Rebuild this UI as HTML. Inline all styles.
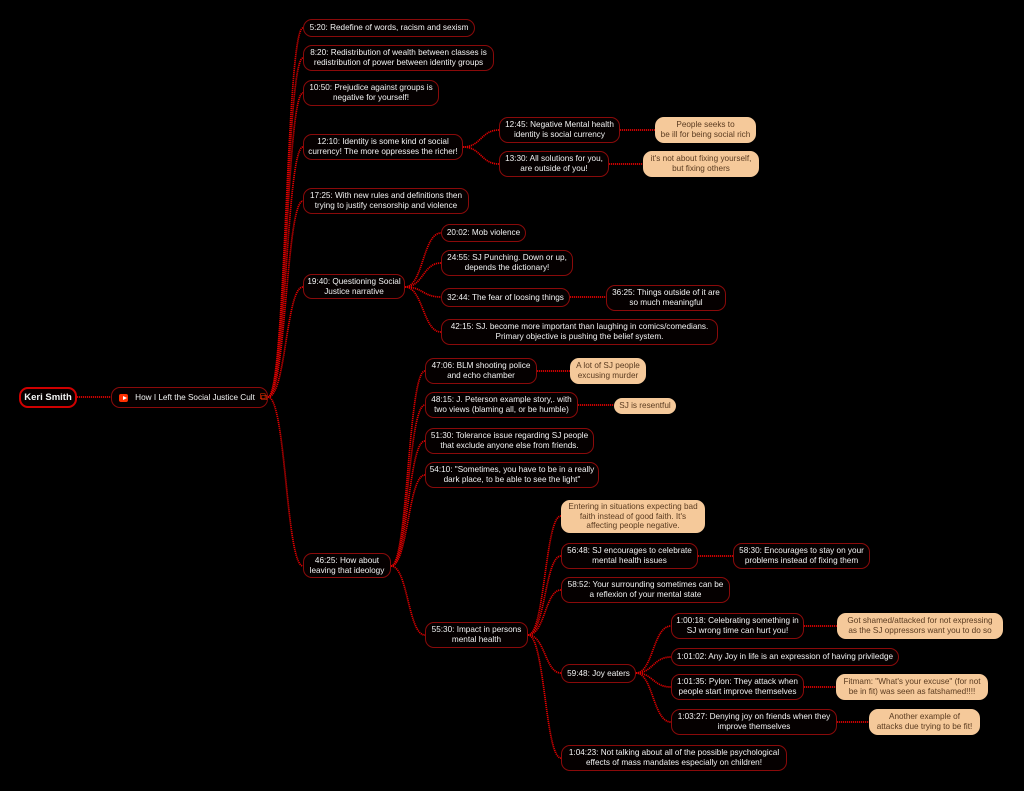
<!DOCTYPE html>
<html><head><meta charset="utf-8">
<style>
html,body{margin:0;padding:0;background:#000;width:1024px;height:791px;overflow:hidden}
.n{position:absolute;box-sizing:border-box;border:1.3px solid #8a0a0a;border-radius:9px;background:#050000;color:#f2f2f2;font-family:"Liberation Sans",sans-serif;font-size:8.2px;line-height:9.8px;display:flex;align-items:center;justify-content:center;text-align:center;white-space:nowrap}
.p{background:#f5c99a;border-color:#f5c99a;color:#5a3b20}
svg{position:absolute;left:0;top:0}
</style></head><body>
<svg width="1024" height="791" fill="none" stroke="#e00000" stroke-width="1.7" stroke-dasharray="1.2 0.8">
<path d="M77 397H111"/>
<path d="M268 397C286 397 286 28 303 28"/>
<path d="M268 397C286 397 286 58 303 58"/>
<path d="M268 397C286 397 286 93 303 93"/>
<path d="M268 397C286 397 286 147 303 147"/>
<path d="M268 397C286 397 286 201 303 201"/>
<path d="M268 397C286 397 286 287 303 287"/>
<path d="M268 397C286 397 286 566 303 566"/>
<path d="M463 147C481 147 481 130 499 130"/>
<path d="M463 147C481 147 481 164 499 164"/>
<path d="M620 130H655"/><path d="M609 164H643"/>
<path d="M405 287C423 287 423 233 441 233"/>
<path d="M405 287C423 287 423 263 441 263"/>
<path d="M405 287C423 287 423 297 441 297"/>
<path d="M405 287C423 287 423 332 441 332"/>
<path d="M570 297H606"/>
<path d="M391 566C408 566 408 371 425 371"/>
<path d="M391 566C408 566 408 405 425 405"/>
<path d="M391 566C408 566 408 441 425 441"/>
<path d="M391 566C408 566 408 475 425 475"/>
<path d="M391 566C408 566 408 635 425 635"/>
<path d="M537 371H570"/><path d="M578 405H614"/>
<path d="M528 635C545 635 545 516 561 516"/>
<path d="M528 635C545 635 545 556 561 556"/>
<path d="M528 635C545 635 545 590 561 590"/>
<path d="M528 635C545 635 545 673 561 673"/>
<path d="M528 635C545 635 545 758 561 758"/>
<path d="M698 556H733"/>
<path d="M636 673C653 673 653 626 671 626"/>
<path d="M636 673C653 673 653 657 671 657"/>
<path d="M636 673C653 673 653 687 671 687"/>
<path d="M636 673C653 673 653 722 671 722"/>
<path d="M804 626H837"/><path d="M804 687H836"/><path d="M837 722H869"/>
</svg>
<div class="n" style="left:19px;top:387px;width:58px;height:21px;border:2px solid #d00000;font-weight:bold;font-size:9.5px">Keri Smith</div>
<div class="n" style="left:111px;top:387px;width:157px;height:21px;justify-content:flex-start;padding-left:7px"><span style="display:inline-block;width:11px;height:8px;background:#ff3000;border-radius:2px;margin-right:7px;position:relative"><span style="position:absolute;left:4px;top:2px;border-left:4px solid #fff;border-top:2px solid transparent;border-bottom:2px solid transparent"></span></span>How I Left the Social Justice Cult<span style="color:#ff3000;margin-left:5px;font-size:10px">⧉</span></div>
<div class="n" style="left:303px;top:19px;width:172px;height:18px">5:20: Redefine of words, racism and sexism</div>
<div class="n" style="left:303px;top:45px;width:191px;height:26px">8:20: Redistribution of wealth between classes is<br>redistribution of power between identity groups</div>
<div class="n" style="left:303px;top:80px;width:136px;height:26px">10:50: Prejudice against groups is<br>negative for yourself!</div>
<div class="n" style="left:303px;top:134px;width:160px;height:26px">12:10: Identity is some kind of social<br>currency! The more oppresses the richer!</div>
<div class="n" style="left:303px;top:188px;width:166px;height:26px">17:25: With new rules and definitions then<br>trying to justify censorship and violence</div>
<div class="n" style="left:303px;top:274px;width:102px;height:25px">19:40: Questioning Social<br>Justice narrative</div>
<div class="n" style="left:303px;top:553px;width:88px;height:25px">46:25: How about<br>leaving that ideology</div>
<div class="n" style="left:499px;top:117px;width:121px;height:26px">12:45: Negative Mental health<br>identity is social currency</div>
<div class="n" style="left:499px;top:151px;width:110px;height:26px">13:30: All solutions for you,<br>are outside of you!</div>
<div class="n p" style="left:655px;top:117px;width:101px;height:26px">People seeks to<br>be ill for being social rich</div>
<div class="n p" style="left:643px;top:151px;width:116px;height:26px">it's not about fixing yourself,<br>but fixing others</div>
<div class="n" style="left:441px;top:224px;width:85px;height:18px">20:02: Mob violence</div>
<div class="n" style="left:441px;top:250px;width:132px;height:26px">24:55: SJ Punching. Down or up,<br>depends the dictionary!</div>
<div class="n" style="left:441px;top:288px;width:129px;height:19px">32:44: The fear of loosing things</div>
<div class="n" style="left:441px;top:319px;width:277px;height:26px">42:15: SJ. become more important than laughing in comics/comedians.<br>Primary objective is pushing the belief system.</div>
<div class="n" style="left:606px;top:285px;width:120px;height:26px">36:25: Things outside of it are<br>so much meaningful</div>
<div class="n" style="left:425px;top:358px;width:112px;height:26px">47:06: BLM shooting police<br>and echo chamber</div>
<div class="n" style="left:425px;top:392px;width:153px;height:26px">48:15: J. Peterson example story,. with<br>two views (blaming all, or be humble)</div>
<div class="n" style="left:425px;top:428px;width:169px;height:26px">51:30: Tolerance issue regarding SJ people<br>that exclude anyone else from friends.</div>
<div class="n" style="left:425px;top:462px;width:174px;height:26px">54:10: "Sometimes, you have to be in a really<br>dark place, to be able to see the light"</div>
<div class="n p" style="left:570px;top:358px;width:76px;height:26px">A lot of SJ people<br>excusing murder</div>
<div class="n p" style="left:614px;top:398px;width:62px;height:16px">SJ is resentful</div>
<div class="n" style="left:425px;top:622px;width:103px;height:26px">55:30: Impact in persons<br>mental health</div>
<div class="n p" style="left:561px;top:500px;width:144px;height:33px">Entering in situations expecting bad<br>faith instead of good faith. It's<br>affecting people negative.</div>
<div class="n" style="left:561px;top:543px;width:137px;height:26px">56:48: SJ encourages to celebrate<br>mental health issues</div>
<div class="n" style="left:733px;top:543px;width:137px;height:26px">58:30: Encourages to stay on your<br>problems instead of fixing them</div>
<div class="n" style="left:561px;top:577px;width:169px;height:26px">58:52: Your surrounding sometimes can be<br>a reflexion of your mental state</div>
<div class="n" style="left:561px;top:664px;width:75px;height:19px">59:48: Joy eaters</div>
<div class="n" style="left:561px;top:745px;width:226px;height:26px">1:04:23: Not talking about all of the possible psychological<br>effects of mass mandates especially on children!</div>
<div class="n" style="left:671px;top:613px;width:133px;height:26px">1:00:18: Celebrating something in<br>SJ wrong time can hurt you!</div>
<div class="n" style="left:671px;top:648px;width:228px;height:18px">1:01:02: Any Joy in life is an expression of having priviledge</div>
<div class="n" style="left:671px;top:674px;width:133px;height:26px">1:01:35: Pylon: They attack when<br>people start improve themselves</div>
<div class="n" style="left:671px;top:709px;width:166px;height:26px">1:03:27: Denying joy on friends when they<br>improve themselves</div>
<div class="n p" style="left:837px;top:613px;width:166px;height:26px">Got shamed/attacked for not expressing<br>as the SJ oppressors want you to do so</div>
<div class="n p" style="left:836px;top:674px;width:152px;height:26px">Fitmam: "What's your excuse" (for not<br>be in fit) was seen as fatshamed!!!!</div>
<div class="n p" style="left:869px;top:709px;width:111px;height:26px">Another example of<br>attacks due trying to be fit!</div>
</body></html>
